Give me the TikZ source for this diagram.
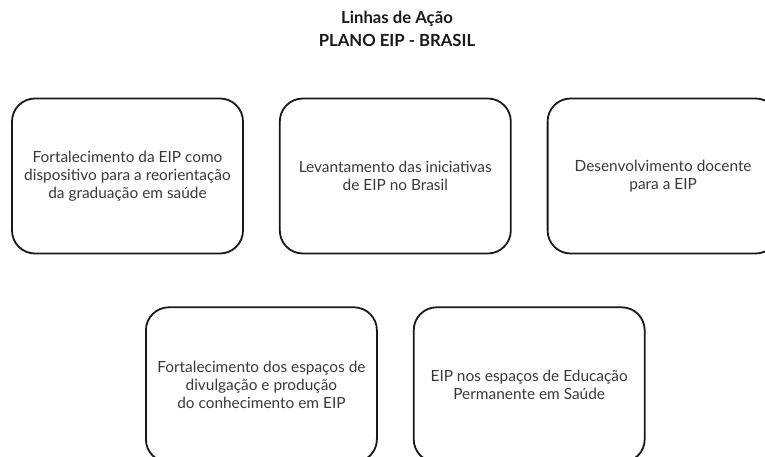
\documentclass[tikz,border=0pt]{standalone}
\usepackage{fontspec}
\setmainfont{Lato}
\usetikzlibrary{positioning}

\tikzset{
  acao/.style={draw=black!90, line width=1.8pt, rounded corners=23pt,
    minimum width=231pt, minimum height=155pt, inner sep=0pt,
    align=center, text=black!78, font=\fontsize{15.4}{17.8}\selectfont},
  titulo/.style={align=center, text=black!90,
    font=\fontsize{16.7}{23}\selectfont\bfseries}
}

\begin{document}
\begin{tikzpicture}[x=1pt,y=1pt]
    \useasboundingbox (0,0) rectangle (765,-457) ;
    \clip (0,0) rectangle (765,-457) ;
    \node[titulo] (tit) at (397,-28.5) {Linhas de Ação\\PLANO EIP - BRASIL} ;
    % primeira linha
    \node[acao] (grad) at (127.5,-176) {Fortalecimento da EIP como\\dispositivo para a reorientação\\da graduação em saúde} ;
    \node[acao, right=35pt of grad] (lev) {Levantamento das iniciativas\\de EIP no Brasil} ;
    \node[acao, right=35pt of lev] (doc) {Desenvolvimento docente\\para a EIP} ;
    % segunda linha
    \node[acao, below=52pt of grad.south east, anchor=north, xshift=17.5pt] (div) {Fortalecimento dos espaços de\\divulgação e produção\\do conhecimento em EIP} ;
    \node[acao, right=35pt of div] (eps) {EIP nos espaços de Educação\\Permanente em Saúde} ;
\end{tikzpicture}
\end{document}
